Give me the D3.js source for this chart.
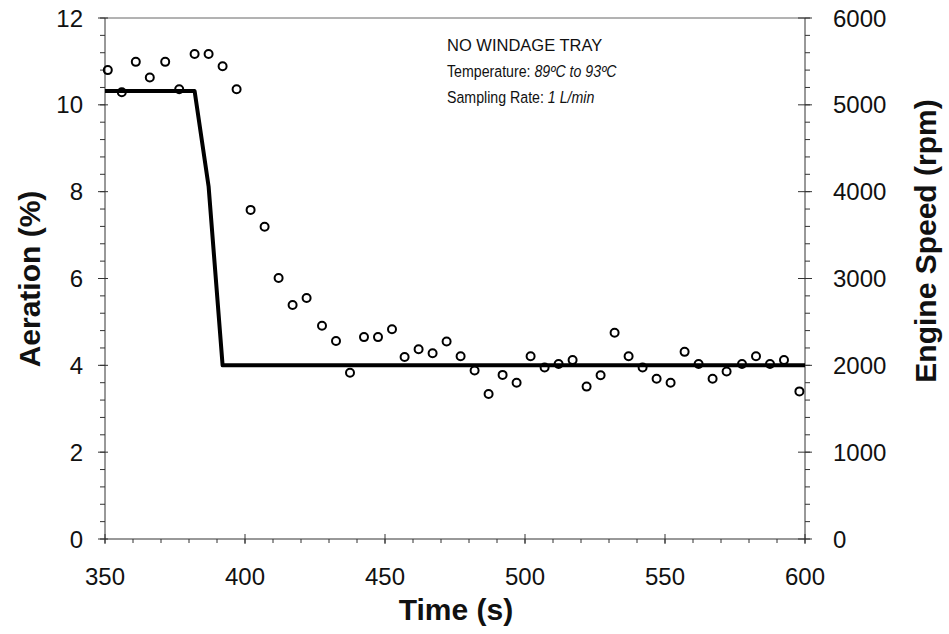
<!DOCTYPE html>
<html>
<head>
<meta charset="utf-8">
<script src="https://cdn.jsdelivr.net/npm/d3@7"></script>
<style>
  html, body { margin: 0; padding: 0; background: #fff; }
  svg { display: block; font-family: "Liberation Sans", Arial, sans-serif; }
</style>
</head>
<body>
<svg id="chart" width="949" height="634"></svg>
<script>
// Aeration samples (open circles)
const sampleTimes = [351, 356, 361, 366, 371.5, 376.5, 382, 387, 392, 397,
  402, 407, 412, 417, 422, 427.5, 432.5, 437.5, 442.5, 447.5,
  452.5, 457, 462, 467, 472, 477, 482, 487, 492, 497,
  502, 507, 512, 517, 522, 527, 532, 537, 542, 547,
  552, 557, 562, 567, 572, 577.5, 582.5, 587.5, 592.5, 598];
const aeration = [10.80, 10.29, 10.99, 10.63, 10.99, 10.36, 11.17, 11.17, 10.89, 10.36,
  7.58, 7.19, 6.01, 5.39, 5.55, 4.91, 4.56, 3.83, 4.65, 4.65,
  4.83, 4.19, 4.37, 4.28, 4.55, 4.21, 3.88, 3.34, 3.78, 3.60,
  4.21, 3.95, 4.03, 4.12, 3.51, 3.77, 4.75, 4.21, 3.95, 3.69,
  3.60, 4.31, 4.03, 3.69, 3.86, 4.03, 4.21, 4.03, 4.12, 3.40];

// Engine speed profile (thick line)
const speedTimes = [350, 382, 387, 392, 600];
const speedRpm = [5160, 5160, 4060, 2000, 2000];

// Axis ticks
const timeTicks = [350, 400, 450, 500, 550, 600];
const aerationTicks = [0, 2, 4, 6, 8, 10, 12];
const rpmTicks = [0, 1000, 2000, 3000, 4000, 5000, 6000];

const annotation = [
  { plain: "NO WINDAGE TRAY", italic: "" },
  { plain: "Temperature: ", italic: "89ºC to 93ºC" },
  { plain: "Sampling Rate: ", italic: "1 L/min" }
];

const svg = d3.select("#chart");
const plotL = 105, plotR = 805, plotT = 18, plotB = 539;
const axisColor = "#333";

const x = d3.scaleLinear().domain([350, 600]).range([plotL, plotR]);
const yA = d3.scaleLinear().domain([0, 12]).range([plotB, plotT]);
const yR = d3.scaleLinear().domain([0, 6000]).range([plotB, plotT]);

// frame: top border
svg.append("line").attr("x1", plotL).attr("x2", plotR).attr("y1", plotT).attr("y2", plotT)
  .attr("stroke", "#666").attr("stroke-width", 1);

// evenly spaced minor tick values
function minorTicks(lo, hi, step) {
  const out = [];
  for (let v = lo; v <= hi + 1e-9; v += step) out.push(+v.toFixed(6));
  return out;
}

// bottom axis
const gx = svg.append("g");
gx.append("line").attr("x1", plotL).attr("x2", plotR).attr("y1", plotB).attr("y2", plotB)
  .attr("stroke", axisColor).attr("stroke-width", 1);
gx.selectAll("line.minor").data(minorTicks(350, 600, 10)).join("line")
  .attr("class", "minor")
  .attr("x1", d => x(d)).attr("x2", d => x(d))
  .attr("y1", plotB).attr("y2", plotB + 4)
  .attr("stroke", axisColor).attr("stroke-width", 1);
gx.selectAll("line.major").data(timeTicks).join("line")
  .attr("class", "major")
  .attr("x1", d => x(d)).attr("x2", d => x(d))
  .attr("y1", plotB - 5).attr("y2", plotB + 5)
  .attr("stroke", axisColor).attr("stroke-width", 1);
gx.selectAll("text").data(timeTicks).join("text")
  .attr("x", d => x(d)).attr("y", 585)
  .attr("text-anchor", "middle").attr("font-size", 24).attr("fill", "#111")
  .text(d => d);

// left axis
const gl = svg.append("g");
gl.append("line").attr("x1", plotL).attr("x2", plotL).attr("y1", plotT).attr("y2", plotB)
  .attr("stroke", axisColor).attr("stroke-width", 1);
gl.selectAll("line.minor").data(minorTicks(0, 12, 0.4)).join("line")
  .attr("class", "minor")
  .attr("x1", plotL - 5).attr("x2", plotL)
  .attr("y1", d => yA(d)).attr("y2", d => yA(d))
  .attr("stroke", axisColor).attr("stroke-width", 1);
gl.selectAll("line.major").data(aerationTicks).join("line")
  .attr("class", "major")
  .attr("x1", plotL - 7).attr("x2", plotL + 3)
  .attr("y1", d => yA(d)).attr("y2", d => yA(d))
  .attr("stroke", axisColor).attr("stroke-width", 1);
gl.selectAll("text").data(aerationTicks).join("text")
  .attr("x", 83).attr("y", d => yA(d)).attr("dy", "0.36em")
  .attr("text-anchor", "end").attr("font-size", 24).attr("fill", "#111")
  .text(d => d);

// right axis
const gr = svg.append("g");
gr.append("line").attr("x1", plotR).attr("x2", plotR).attr("y1", plotT).attr("y2", plotB)
  .attr("stroke", axisColor).attr("stroke-width", 1);
gr.selectAll("line.minor").data(minorTicks(0, 6000, 200)).join("line")
  .attr("class", "minor")
  .attr("x1", plotR).attr("x2", plotR + 5)
  .attr("y1", d => yR(d)).attr("y2", d => yR(d))
  .attr("stroke", axisColor).attr("stroke-width", 1);
gr.selectAll("line.major").data(rpmTicks).join("line")
  .attr("class", "major")
  .attr("x1", plotR - 7).attr("x2", plotR + 7)
  .attr("y1", d => yR(d)).attr("y2", d => yR(d))
  .attr("stroke", axisColor).attr("stroke-width", 1);
gr.selectAll("text").data(rpmTicks).join("text")
  .attr("x", 833).attr("y", d => yR(d)).attr("dy", "0.36em")
  .attr("text-anchor", "start").attr("font-size", 24).attr("fill", "#111")
  .text(d => d);

// axis titles
svg.append("text").attr("x", 456).attr("y", 620)
  .attr("text-anchor", "middle").attr("font-size", 30).attr("font-weight", "bold")
  .attr("fill", "#111").text("Time (s)");
svg.append("text").attr("transform", "translate(40,279) rotate(-90)")
  .attr("text-anchor", "middle").attr("font-size", 30).attr("font-weight", "bold")
  .attr("fill", "#111").text("Aeration (%)");
svg.append("text").attr("transform", "translate(936,241) rotate(-90)")
  .attr("text-anchor", "middle").attr("font-size", 30).attr("font-weight", "bold")
  .attr("fill", "#111").text("Engine Speed (rpm)");

// engine speed line
const speedData = speedTimes.map((t, i) => [t, speedRpm[i]]);
svg.append("path").datum(speedData)
  .attr("d", d3.line().x(d => x(d[0])).y(d => yR(d[1])))
  .attr("fill", "none").attr("stroke", "#000").attr("stroke-width", 4)
  .attr("stroke-linejoin", "round");

// aeration markers
svg.append("g").selectAll("circle").data(sampleTimes.map((t, i) => [t, aeration[i]]))
  .join("circle")
  .attr("cx", d => x(d[0])).attr("cy", d => yA(d[1])).attr("r", 4)
  .attr("fill", "none").attr("stroke", "#000").attr("stroke-width", 2);

// annotation block (lower lines set in a slightly condensed face)
const ann = svg.append("g");
annotation.forEach((row, i) => {
  const sx = i === 0 ? 1 : 0.86;
  const t = ann.append("text")
    .attr("transform", `translate(447,${51 + i * 26}) scale(${sx},1)`)
    .attr("font-size", 16.5).attr("fill", "#111");
  t.append("tspan").text(row.plain);
  if (row.italic) t.append("tspan").attr("font-style", "italic").text(row.italic);
});
</script>
</body>
</html>
